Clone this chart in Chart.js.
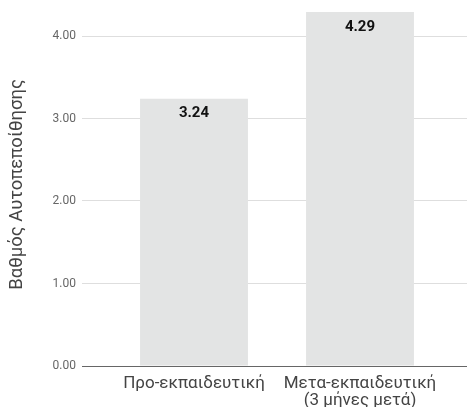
<!DOCTYPE html>
<html>
<head>
<meta charset="utf-8">
<script src="https://cdn.jsdelivr.net/npm/chart.js@4"></script>
<style>
  html, body { margin: 0; padding: 0; background: #fff; }
  #wrap { width: 467px; height: 407px; }
</style>
</head>
<body>
<div id="wrap"><canvas id="confChart"></canvas></div>
<script>
const categories = [
  "Προ-εκπαιδευτική",
  ["Μετα-εκπαιδευτική", "(3 μήνες μετά)"]
];
const scores = [3.24, 4.29];
const yTicks = [0, 1, 2, 3, 4];

const gridColor = ctx => (ctx.tick && ctx.tick.value === 0 ? "#666666" : "#dedede");

// value labels inside the top of each bar
const barValues = {
  id: "barValues",
  afterDatasetsDraw(chart) {
    const ctx = chart.ctx;
    ctx.save();
    ctx.font = "bold 15px Roboto";
    ctx.fillStyle = "#111";
    ctx.textAlign = "center";
    ctx.textBaseline = "middle";
    chart.getDatasetMeta(0).data.forEach((bar, i) => {
      ctx.fillText(scores[i].toFixed(2), bar.x, bar.y + 15);
    });
    ctx.restore();
  }
};

new Chart(document.getElementById("confChart"), {
  type: "bar",
  data: {
    labels: categories,
    datasets: [{
      data: scores,
      backgroundColor: "#e3e4e4",
      categoryPercentage: 1,
      barPercentage: 0.65
    }]
  },
  options: {
    responsive: true,
    maintainAspectRatio: false,
    animation: false,
    layout: { padding: { top: 3 } },
    plugins: {
      legend: { display: false },
      tooltip: { enabled: false }
    },
    scales: {
      x: {
        grid: { display: false },
        border: { display: false },
        ticks: {
          color: "#444",
          padding: 1,
          maxRotation: 0,
          font: { family: "Roboto", size: 17, lineHeight: 1 }
        },
        afterFit(scale) { scale.height = 41; }
      },
      y: {
        min: 0,
        max: 4.4,
        afterBuildTicks(scale) { scale.ticks = yTicks.map(v => ({ value: v })); },
        grid: { color: gridColor, tickLength: 29 },
        border: { display: false },
        ticks: {
          color: "#666",
          padding: 6,
          font: { family: "Roboto", size: 12 },
          callback: v => v.toFixed(2)
        },
        title: {
          display: true,
          text: "Βαθμός Αυτοπεποίθησης",
          color: "#444",
          padding: { top: 6, bottom: 0 },
          font: { family: "Roboto", size: 18.5 }
        },
        afterFit(scale) {
          scale.width = 111;
          scale.paddingTop = 0;
          scale.paddingBottom = 0;
        }
      },
      yRight: {
        position: "right",
        min: 0,
        max: 4.4,
        afterBuildTicks(scale) { scale.ticks = yTicks.map(v => ({ value: v })); },
        grid: { color: gridColor, tickLength: 24, drawOnChartArea: false },
        border: { display: false },
        ticks: { display: false },
        afterFit(scale) {
          scale.width = 24;
          scale.paddingTop = 0;
          scale.paddingBottom = 0;
        }
      }
    }
  },
  plugins: [barValues]
});
</script>
</body>
</html>
